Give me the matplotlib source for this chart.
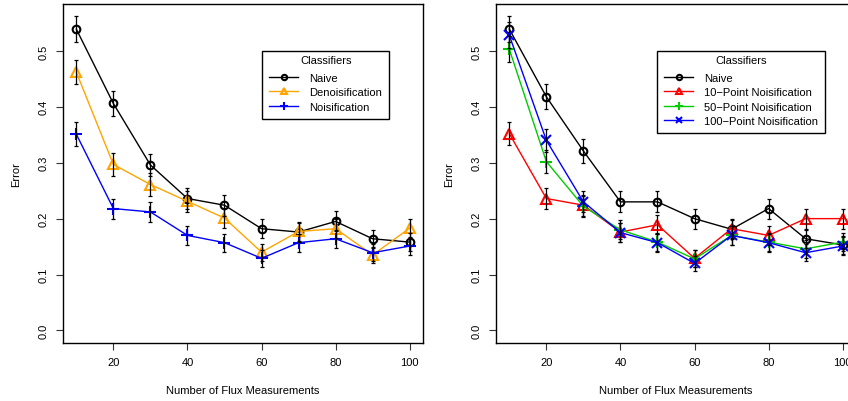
import matplotlib
matplotlib.use("Agg")
import matplotlib.pyplot as plt

plt.rcParams['font.family'] = ['Liberation Sans', 'DejaVu Sans']

# ---------------------------------------------------------------
# Data
# ---------------------------------------------------------------
n_flux = [10, 20, 30, 40, 50, 60, 70, 80, 90, 100]

# left panel
naive_l = [0.539, 0.406, 0.296, 0.236, 0.224, 0.182, 0.176, 0.195, 0.164, 0.158]
naive_l_err = [0.023, 0.022, 0.020, 0.019, 0.019, 0.017, 0.017, 0.018, 0.016, 0.016]
denoise = [0.462, 0.297, 0.261, 0.231, 0.201, 0.140, 0.177, 0.182, 0.135, 0.183]
denoise_err = [0.022, 0.021, 0.020, 0.019, 0.018, 0.015, 0.017, 0.017, 0.015, 0.017]
noise = [0.351, 0.218, 0.212, 0.170, 0.157, 0.129, 0.157, 0.164, 0.139, 0.151]
noise_err = [0.021, 0.018, 0.018, 0.017, 0.016, 0.015, 0.016, 0.016, 0.015, 0.016]

# right panel
naive_r = [0.539, 0.418, 0.321, 0.230, 0.230, 0.200, 0.181, 0.218, 0.164, 0.153]
naive_r_err = [0.023, 0.022, 0.021, 0.019, 0.019, 0.018, 0.017, 0.018, 0.016, 0.016]
pt10 = [0.352, 0.236, 0.224, 0.176, 0.189, 0.129, 0.182, 0.170, 0.200, 0.200]
pt10_err = [0.021, 0.019, 0.019, 0.017, 0.017, 0.015, 0.017, 0.017, 0.018, 0.018]
pt50 = [0.503, 0.302, 0.222, 0.180, 0.158, 0.128, 0.170, 0.158, 0.146, 0.158]
pt50_err = [0.023, 0.021, 0.019, 0.017, 0.016, 0.015, 0.017, 0.016, 0.016, 0.016]
pt100 = [0.528, 0.340, 0.230, 0.175, 0.157, 0.120, 0.170, 0.157, 0.139, 0.151]
pt100_err = [0.023, 0.021, 0.019, 0.017, 0.016, 0.014, 0.017, 0.016, 0.015, 0.016]

W, H = 848, 402
fig = plt.figure(figsize=(W / 100, H / 100), dpi=100)


def px_axes(x0, y0, x1, y1):
    return fig.add_axes([x0 / W, 1 - y1 / H, (x1 - x0) / W, (y1 - y0) / H])


def style(ax):
    ax.set_xlim(6.4, 103.6)
    ax.set_ylim(-0.0225, 0.584)
    ax.set_xticks([20, 40, 60, 80, 100])
    ax.set_yticks([0.0, 0.1, 0.2, 0.3, 0.4, 0.5])
    ax.set_yticklabels(["0.0", "0.1", "0.2", "0.3", "0.4", "0.5"],
                       rotation=90, va="center")
    ax.tick_params(direction="out", length=5, width=0.8, labelsize=8,
                   color="#333333", pad=5)
    for s in ax.spines.values():
        s.set_linewidth(1.0)
    ax.set_xlabel("Number of Flux Measurements", fontsize=8, labelpad=13)
    ax.set_ylabel("Error", fontsize=8, labelpad=13)


def series(ax, y, err, color, marker, label, ms=6.5):
    ax.plot(n_flux, y, color=color, lw=1.0, marker=marker, ms=ms,
            mfc="none", mec=color, mew=1.5, label=label, zorder=3)
    ax.errorbar(n_flux, y, yerr=err, fmt="none", ecolor="black",
                elinewidth=0.9, capsize=1.5, capthick=0.9, zorder=4)


def add_legend(ax, x0, y0):
    leg = ax.legend(loc="upper left", bbox_to_anchor=(x0 / W, 1 - y0 / H),
                    bbox_transform=fig.transFigure, title="Classifiers",
                    fontsize=8, title_fontsize=8, frameon=True,
                    fancybox=False, edgecolor="black", framealpha=1,
                    handlelength=2.6, handletextpad=1.0, labelspacing=0.4,
                    borderpad=0.65, borderaxespad=0, markerscale=0.7)
    leg.get_frame().set_linewidth(1.0)
    leg.get_title().set_y(3)


# left panel
ax1 = px_axes(63, 5, 423, 344)
series(ax1, naive_l, naive_l_err, "black", "o", "Naive", ms=5.5)
series(ax1, denoise, denoise_err, "orange", "^", "Denoisification")
series(ax1, noise, noise_err, "blue", "+", "Noisification", ms=8.5)
style(ax1)
add_legend(ax1, 262, 52)

# right panel (cut off at the figure's right edge)
ax2 = px_axes(496, 5, 856, 344)
series(ax2, naive_r, naive_r_err, "black", "o", "Naive", ms=5.5)
series(ax2, pt10, pt10_err, "red", "^", "10\u2212Point Noisification")
series(ax2, pt50, pt50_err, "#00cc00", "+", "50\u2212Point Noisification", ms=8.5)
series(ax2, pt100, pt100_err, "blue", "x", "100\u2212Point Noisification")
style(ax2)
add_legend(ax2, 657, 52)

fig.savefig("out.png", dpi=100)
